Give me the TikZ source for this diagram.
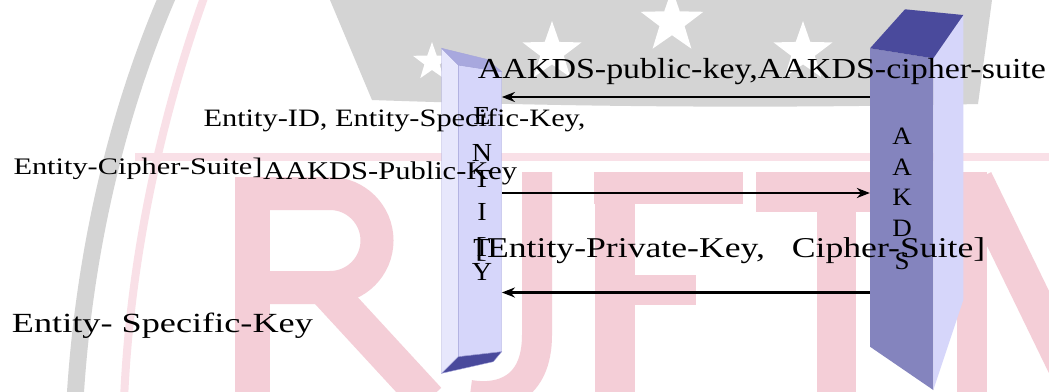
\documentclass[tikz,border=0pt]{standalone}
\usepackage{graphicx}
\usepackage{fontspec}
\setmainfont{Liberation Serif}
\usetikzlibrary{arrows.meta,shapes.geometric}

\definecolor{wmgray}{RGB}{212,212,212}
\definecolor{wmpink}{RGB}{244,206,215}
\definecolor{wmpinklight}{RGB}{249,224,231}
\definecolor{entfront}{RGB}{214,214,250}
\definecolor{entside}{RGB}{231,231,252}
\definecolor{enttop}{RGB}{168,168,222}
\definecolor{barnavy}{RGB}{74,74,156}
\definecolor{aakfront}{RGB}{132,132,190}
\definecolor{baredge}{RGB}{165,165,218}

% stretch a message to a given width, height kept
\def\Spread#1#2{\resizebox{#1}{\height}{#2}}

\tikzset{
  msg/.style={draw=black, line width=2.3pt, -{Stealth[length=13pt,width=10pt]}},
  msgtext/.style={anchor=base west, inner sep=0pt, font=\fontsize{#1}{#1}\selectfont},
  barletter/.style={inner sep=0pt, xscale=1.08, font=\fontsize{#1}{#1}\selectfont},
  face/.style={fill=#1, draw=baredge, line width=0.4pt},
  flatface/.style={fill=#1, draw=none},
  wmstroke/.style={draw=wmpink, line width=#1},
  wmstar/.style={star, star points=5, star point ratio=2.5, fill=white, draw=none, inner sep=0pt, minimum size=#1},
}

\begin{document}
\begin{tikzpicture}[x=1pt, y=-1pt]
\useasboundingbox (0,0) rectangle (1049,391);
\fill[white] (0,0) rectangle (1049,391);

% faint seal in the background
\begin{scope}
  \clip (0,0) rectangle (1049,391);
  \fill[wmgray] (330,0) -- (372,100) .. controls (600,108) and (800,108) .. (978,104) -- (992,0) -- cycle;
  \draw[wmgray, line width=17pt] (168,-5) .. controls (118,110) and (84,250) .. (75,400);
  \draw[wmpinklight, line width=8pt] (205,-5) .. controls (160,120) and (130,260) .. (124,400);
  \foreach \sx/\sy/\sr [count=\i] in {432/62/40, 552/52/62, 672/22/66, 803/52/62}
    \node[wmstar=\sr pt] (star\i) at (\sx,\sy) {};
  \draw[wmpinklight, line width=8pt] (135,157) -- (1049,157);
  % R
  \draw[wmstroke=35pt] (252,177) -- (252,400);
  \draw[wmstroke=33pt] (252,193.5) -- (330,193.5) arc[start angle=-90, end angle=90, radius=47] -- (252,287.5);
  \draw[wmstroke=36pt] (322,285) -- (428,400);
  % J
  \draw[wmstroke=30pt] (537,172) -- (537,335) .. controls (537,390) and (500,400) .. (470,395);
  % E
  \draw[wmstroke=40pt] (614.5,172) -- (614.5,400);
  \draw[wmstroke=32pt] (594,188) -- (743,188);
  \draw[wmstroke=30pt] (614,290) -- (696,290);
  % T
  \draw[wmstroke=40pt] (756,192) -- (930,192);
  \draw[wmstroke=39pt] (836.5,172) -- (836.5,400);
  % N
  \draw[wmstroke=30pt] (972,172) -- (972,400);
  \draw[wmstroke=36pt] (975,180) -- (1065,365);
\end{scope}

% ENTITY column
\filldraw[face=entside] (441.7,48.3) -- (458.3,65) -- (458.3,356.7) -- (441.7,373.3) -- cycle;
\filldraw[face=entfront] (458.3,65) -- (501.7,71.7) -- (501.7,351.7) -- (458.3,356.7) -- cycle;
\filldraw[face=enttop] (441.7,48.3) -- (486.7,59.3) -- (501.7,71.7) -- (458.3,65) -- cycle;
\filldraw[face=barnavy] (441.7,373.3) -- (458.3,356.7) -- (501.7,351.7) -- (493.3,361.7) -- cycle;
\node[inner sep=0pt, minimum width=43.4pt, minimum height=285pt] (entity) at (480,211) {};
\foreach \ch/\yy [count=\i] in {E/116,N/153,T/179,I/212,T/248,Y/272}
  \node[barletter=26] (ent\i) at (482,\yy) {\ch};

% AAKDS column
\fill[flatface=aakfront] (870,48.3) -- (933.3,58.3) -- (933.3,390) -- (870,346.7) -- cycle;
\fill[flatface=entfront] (933.3,58.3) -- (963.3,15) -- (963.3,300) -- (933.3,390) -- cycle;
\fill[flatface=barnavy] (870,48.3) -- (905,9.3) -- (963.3,15) -- (933.3,58.3) -- cycle;
\node[inner sep=0pt, minimum width=63.3pt, minimum height=290pt] (aakds) at (901.7,200) {};
\foreach \ch/\yy [count=\i] in {A/136,A/167,K/197,D/228,S/261}
  \node[barletter=25] (aak\i) at (902,\yy) {\ch};

% messages
\draw[msg] (aakds.west |- 0,97) -- (entity.east |- 0,97);
\draw[msg] (entity.east |- 0,193) -- (aakds.west |- 0,193);
\draw[msg] (aakds.west |- 0,292.5) -- (entity.east |- 0,292.5);

\node[msgtext=29] (keysOut) at (477.7,78.3) {\Spread{568pt}{AAKDS-public-key,AAKDS-cipher-suite}};
\node[msgtext=25] (idIn) at (203.3,126.7) {\Spread{382pt}{Entity-ID, Entity-Specific-Key,}};
\node[msgtext=23.7] (suiteIn) at (13.3,174) {\Spread{249pt}{Entity-Cipher-Suite]}};
\node[msgtext=25.5] (pubIn) at (263,179) {\Spread{254pt}{AAKDS-Public-Key}};
\node[msgtext=28.7] (privOut) at (475,257.3) {\Spread{510pt}{[Entity-Private-Key,~~~Cipher-Suite]}};
\node[msgtext=27.7] (specOut) at (11.7,332.3) {\Spread{301pt}{Entity- Specific-Key}};
\end{tikzpicture}
\end{document}
